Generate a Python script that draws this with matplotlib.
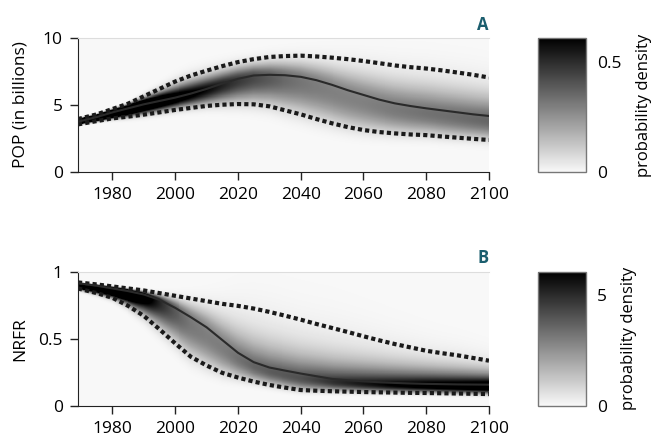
import matplotlib
matplotlib.use("Agg")
import matplotlib.pyplot as plt
import numpy as np
from matplotlib.colors import LinearSegmentedColormap

plt.rcParams['font.family'] = ['Open Sans', 'DejaVu Sans']

years = np.array([1969, 1975, 1980, 1985, 1990, 1995, 2000, 2005, 2010, 2015,
                  2020, 2025, 2030, 2035, 2040, 2045, 2050, 2055, 2060, 2065,
                  2070, 2075, 2080, 2085, 2090, 2095, 2100])

# panel A: population (billions)
pop_median = [3.75, 4.10, 4.45, 4.75, 5.05, 5.30, 5.55, 5.85, 6.20, 6.60,
              6.95, 7.20, 7.25, 7.22, 7.10, 6.85, 6.50, 6.10, 5.75, 5.40,
              5.12, 4.92, 4.75, 4.60, 4.45, 4.30, 4.18]
pop_upper = [3.95, 4.30, 4.70, 5.10, 5.65, 6.20, 6.75, 7.20, 7.56, 7.90,
             8.20, 8.42, 8.58, 8.65, 8.68, 8.62, 8.53, 8.42, 8.28, 8.12,
             7.95, 7.82, 7.72, 7.58, 7.42, 7.25, 7.05]
pop_lower = [3.55, 3.80, 4.00, 4.13, 4.28, 4.45, 4.63, 4.78, 4.93, 5.02,
             5.07, 5.05, 4.90, 4.60, 4.30, 3.95, 3.63, 3.35, 3.13, 2.98,
             2.88, 2.80, 2.75, 2.65, 2.56, 2.47, 2.39]

# panel B: NRFR
nrfr_median = [0.915, 0.895, 0.875, 0.855, 0.830, 0.790, 0.730, 0.660, 0.585, 0.490,
               0.395, 0.325, 0.285, 0.262, 0.240, 0.220, 0.200, 0.190, 0.182, 0.175,
               0.170, 0.166, 0.163, 0.161, 0.159, 0.158, 0.157]
nrfr_upper = [0.920, 0.905, 0.890, 0.875, 0.860, 0.840, 0.820, 0.800, 0.780, 0.760,
              0.745, 0.725, 0.700, 0.672, 0.642, 0.610, 0.580, 0.550, 0.518, 0.488,
              0.460, 0.435, 0.410, 0.392, 0.376, 0.356, 0.336]
nrfr_lower = [0.875, 0.840, 0.805, 0.745, 0.670, 0.570, 0.465, 0.365, 0.300, 0.245,
              0.210, 0.180, 0.155, 0.135, 0.117, 0.112, 0.108, 0.105, 0.102, 0.100,
              0.098, 0.096, 0.095, 0.093, 0.091, 0.089, 0.087]

cmap = LinearSegmentedColormap.from_list('dens', ['#f8f8f8', '#000000'])
label_color = '#1b5e6e'


def density_field(med, lo, hi, ymax):
    # skewed (split log-normal) density built from the median and quantile curves
    xx = np.linspace(years[0], years[-1], 420)
    yy = np.linspace(ymax / 800, ymax, 400)
    ly = np.log(yy)[:, None]
    m = np.log(np.interp(xx, years, med))[None, :]
    s_lo = (m - np.log(np.interp(xx, years, lo))[None, :]) / 1.96
    s_hi = (np.log(np.interp(xx, years, hi))[None, :] - m) / 1.96
    s = np.where(ly < m, s_lo, s_hi)
    peak = 2.0 / (np.sqrt(2 * np.pi) * (s_lo + s_hi))
    dens = peak * np.exp(-0.5 * ((ly - m) / s) ** 2) / yy[:, None]
    return xx, yy, dens


def panel(ax, cax, med, lo, hi, ymax, vmax, ylabel, letter, yticks, yticklabels, cticks):
    xx, yy, dens = density_field(med, lo, hi, ymax)
    mesh = ax.pcolormesh(xx, yy, dens, cmap=cmap, vmin=0, vmax=vmax,
                         shading='nearest', rasterized=True)
    ax.plot(years, hi, color='#1a1a1a', lw=3, linestyle=(0, (1, 0.75)))
    ax.plot(years, lo, color='#1a1a1a', lw=3, linestyle=(0, (1, 0.75)))
    ax.plot(years, med, color='#2a2a2a', lw=1.5)

    ax.set_xlim(1969, 2100)
    ax.set_ylim(0, ymax)
    ax.set_xticks([1980, 2000, 2020, 2040, 2060, 2080, 2100])
    ax.set_yticks(yticks)
    ax.set_yticklabels(yticklabels)
    ax.tick_params(labelsize=12.5, length=6, width=1, pad=5, color='#222222')
    ax.spines['right'].set_visible(False)
    ax.spines['top'].set_color('#dddddd')
    ax.spines['left'].set_color('#222222')
    ax.spines['bottom'].set_color('#222222')
    ax.set_ylabel(ylabel, fontsize=12.5)
    ax.yaxis.set_label_coords(-0.12, 0.5)
    ax.text(1.0, 1.1, letter, transform=ax.transAxes, ha='right', va='center',
            fontsize=12, fontweight='bold', color=label_color)

    cb = plt.colorbar(mesh, cax=cax)
    cb.set_ticks(cticks)
    cb.ax.set_yticklabels([str(t) for t in cticks])
    cb.ax.tick_params(labelsize=12.5, length=0, pad=8)
    cb.outline.set_edgecolor('#777777')
    cb.outline.set_linewidth(1)
    cb.set_label('probability density', fontsize=12, labelpad=10)


fig = plt.figure(figsize=(6.53, 4.42), dpi=100)
ax_a = fig.add_axes([0.1194, 0.6109, 0.6294, 0.3032])
cax_a = fig.add_axes([0.8239, 0.6109, 0.0735, 0.3032])
ax_b = fig.add_axes([0.1194, 0.0821, 0.6294, 0.3032])
cax_b = fig.add_axes([0.8239, 0.0821, 0.0735, 0.3032])

panel(ax_a, cax_a, pop_median, pop_lower, pop_upper, 10, 0.61,
      'POP (in billions)', 'A', [0, 5, 10], ['0', '5', '10'], [0, 0.5])
panel(ax_b, cax_b, nrfr_median, nrfr_lower, nrfr_upper, 1, 6.05,
      'NRFR', 'B', [0, 0.5, 1], ['0', '0.5', '1'], [0, 5])

fig.savefig('out.png', dpi=100)
